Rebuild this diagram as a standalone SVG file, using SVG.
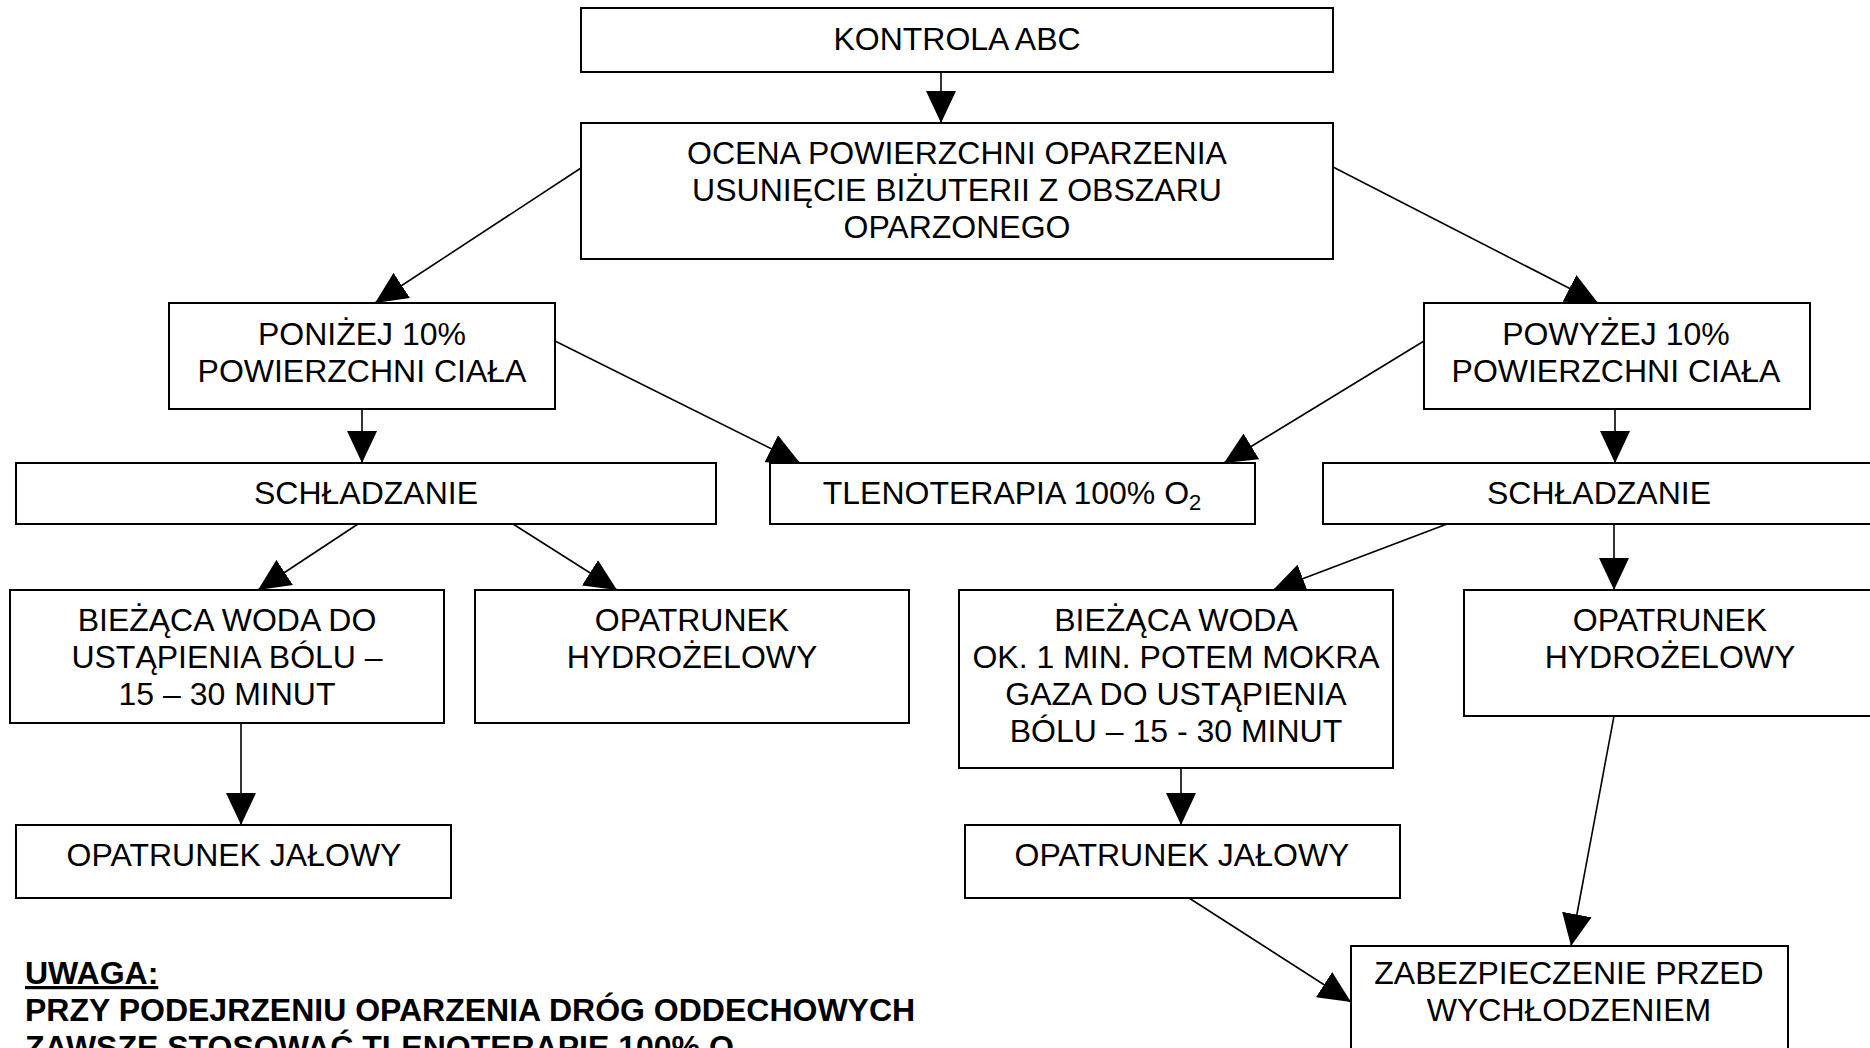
<svg xmlns="http://www.w3.org/2000/svg" width="1870" height="1048" viewBox="0 0 1870 1048">
<style>
.box{fill:#fff;stroke:#000;stroke-width:2}
.t{font-family:"Liberation Sans",Arial,sans-serif;font-size:32px;fill:#000;text-anchor:middle}
.b{font-family:"Liberation Sans",Arial,sans-serif;font-size:32px;font-weight:bold;fill:#000}
.c{stroke:#000;stroke-width:1.6;fill:none;marker-end:url(#ah)}
</style>
<defs>
<marker id="ah" markerUnits="userSpaceOnUse" markerWidth="32" markerHeight="30" viewBox="0 0 32 30" refX="32" refY="15" orient="auto">
<path d="M0,0 L32,15 L0,30 Z" fill="#000"/>
</marker>
</defs>
<rect width="1870" height="1048" fill="#fff"/>
<g id="connectors">
<line class="c" x1="941" y1="72" x2="941" y2="123"/>
<line class="c" x1="581" y1="168" x2="375" y2="303"/>
<line class="c" x1="1333" y1="167" x2="1598" y2="303"/>
<line class="c" x1="555" y1="341" x2="800" y2="463"/>
<line class="c" x1="1424" y1="341" x2="1224" y2="463"/>
<line class="c" x1="362" y1="409" x2="362" y2="463"/>
<line class="c" x1="1615" y1="409" x2="1615" y2="463"/>
<line class="c" x1="358" y1="524" x2="258" y2="590"/>
<line class="c" x1="513" y1="524" x2="617" y2="590"/>
<line class="c" x1="241" y1="723" x2="241" y2="825"/>
<line class="c" x1="1447" y1="524" x2="1273" y2="590"/>
<line class="c" x1="1614" y1="524" x2="1614" y2="590"/>
<line class="c" x1="1181" y1="768" x2="1181" y2="825"/>
<line class="c" x1="1614" y1="716" x2="1571" y2="946"/>
<line class="c" x1="1189" y1="898" x2="1351" y2="1002"/>
</g>
<g id="n-kontrola">
<rect class="box" x="581" y="8" width="752" height="64"/>
<text class="t" x="957" y="50">KONTROLA ABC</text>
</g>
<g id="n-ocena">
<rect class="box" x="581" y="123" width="752" height="136"/>
<text class="t" x="957" y="164">OCENA POWIERZCHNI OPARZENIA</text>
<text class="t" x="957" y="201">USUNIĘCIE BIŻUTERII Z OBSZARU</text>
<text class="t" x="957" y="238">OPARZONEGO</text>
</g>
<g id="n-ponizej">
<rect class="box" x="169" y="303" width="386" height="106"/>
<text class="t" x="362" y="345">PONIŻEJ 10%</text>
<text class="t" x="362" y="382">POWIERZCHNI CIAŁA</text>
</g>
<g id="n-powyzej">
<rect class="box" x="1424" y="303" width="386" height="106"/>
<text class="t" x="1616" y="345">POWYŻEJ 10%</text>
<text class="t" x="1616" y="382">POWIERZCHNI CIAŁA</text>
</g>
<g id="n-schl-left">
<rect class="box" x="16" y="463" width="700" height="61"/>
<text class="t" x="366" y="504">SCHŁADZANIE</text>
</g>
<g id="n-tleno">
<rect class="box" x="770" y="463" width="485" height="61"/>
<text class="t" x="1012" y="504">TLENOTERAPIA 100% O<tspan font-size="22" dy="6">2</tspan></text>
</g>
<g id="n-schl-right">
<rect class="box" x="1323" y="463" width="552" height="61"/>
<text class="t" x="1599" y="504">SCHŁADZANIE</text>
</g>
<g id="n-woda-left">
<rect class="box" x="10" y="590" width="434" height="133"/>
<text class="t" x="227" y="631">BIEŻĄCA WODA DO</text>
<text class="t" x="227" y="668">USTĄPIENIA BÓLU –</text>
<text class="t" x="227" y="705">15 – 30 MINUT</text>
</g>
<g id="n-hydro-left">
<rect class="box" x="475" y="590" width="434" height="133"/>
<text class="t" x="692" y="631">OPATRUNEK</text>
<text class="t" x="692" y="668">HYDROŻELOWY</text>
</g>
<g id="n-woda-right">
<rect class="box" x="959" y="590" width="434" height="178"/>
<text class="t" x="1176" y="631">BIEŻĄCA WODA</text>
<text class="t" x="1176" y="668">OK. 1 MIN. POTEM MOKRA</text>
<text class="t" x="1176" y="705">GAZA DO USTĄPIENIA</text>
<text class="t" x="1176" y="742">BÓLU – 15 - 30 MINUT</text>
</g>
<g id="n-hydro-right">
<rect class="box" x="1464" y="590" width="412" height="126"/>
<text class="t" x="1670" y="631">OPATRUNEK</text>
<text class="t" x="1670" y="668">HYDROŻELOWY</text>
</g>
<g id="n-jalowy-left">
<rect class="box" x="16" y="825" width="435" height="73"/>
<text class="t" x="234" y="866">OPATRUNEK JAŁOWY</text>
</g>
<g id="n-jalowy-right">
<rect class="box" x="965" y="825" width="435" height="73"/>
<text class="t" x="1182" y="866">OPATRUNEK JAŁOWY</text>
</g>
<g id="n-zabezp">
<rect class="box" x="1351" y="946" width="437" height="120"/>
<text class="t" x="1569" y="984">ZABEZPIECZENIE PRZED</text>
<text class="t" x="1569" y="1021">WYCHŁODZENIEM</text>
</g>
<g id="note">
<text class="b" x="25" y="984" text-decoration="underline">UWAGA:</text>
<text class="b" x="25" y="1021">PRZY PODEJRZENIU OPARZENIA DRÓG ODDECHOWYCH</text>
<text class="b" x="25" y="1058">ZAWSZE STOSOWAĆ TLENOTERAPIĘ 100% O<tspan font-size="22" dy="6">2</tspan></text>
</g>
</svg>
